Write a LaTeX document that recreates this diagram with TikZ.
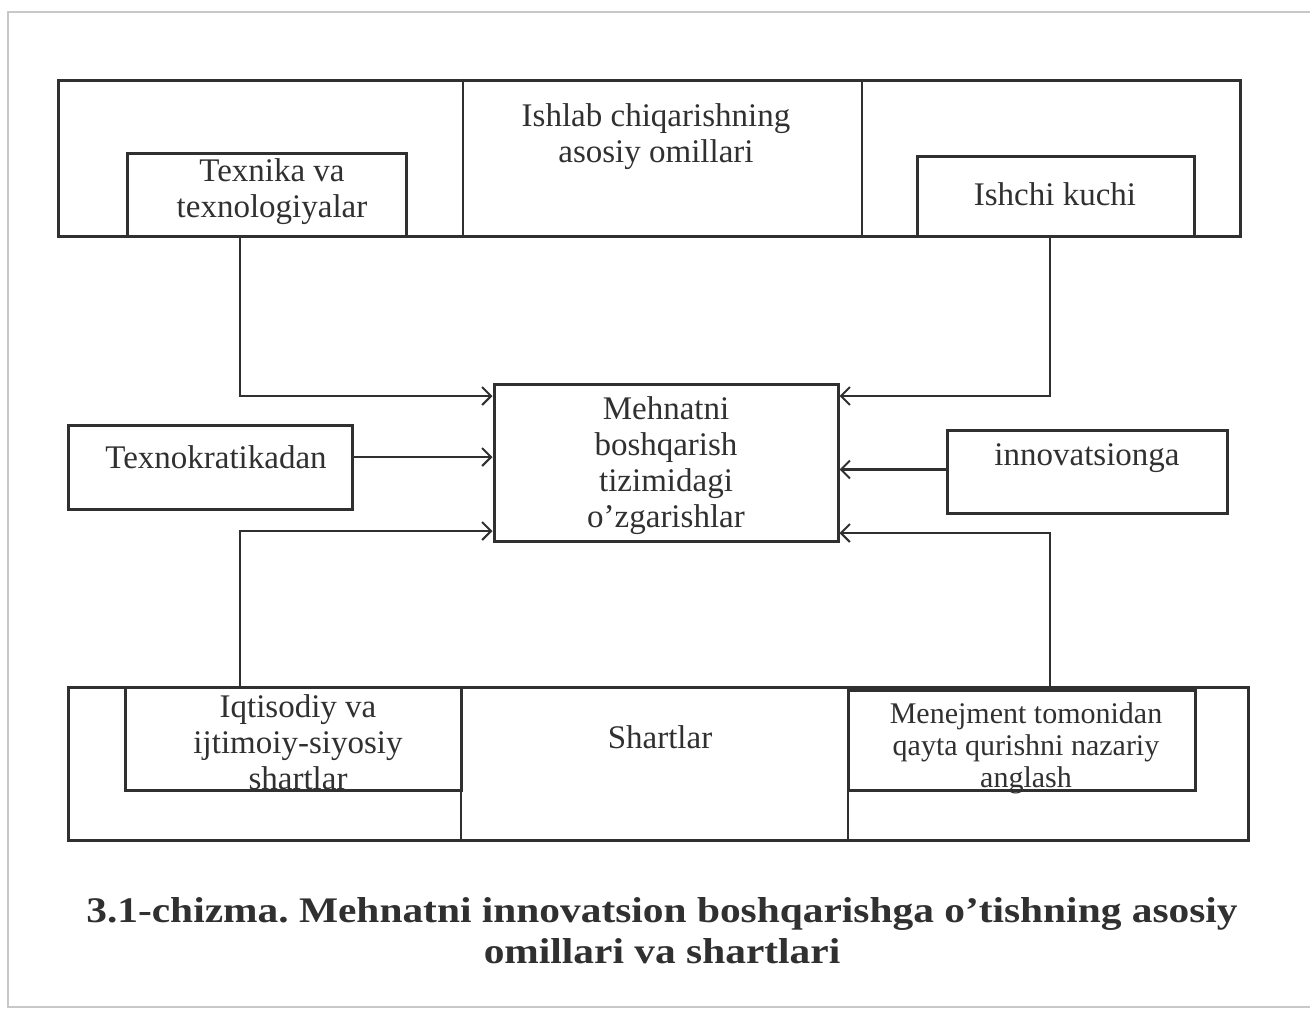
\documentclass[tikz,border=0pt]{standalone}
\usepackage{fontspec}
\setmainfont{Liberation Serif}
\usetikzlibrary{arrows.meta,calc}
\definecolor{ink}{HTML}{303030}
\definecolor{pageedge}{HTML}{C8C8C8}
\frenchspacing

\begin{document}
\begin{tikzpicture}[x=1pt,y=-1pt,
  box/.style={draw=ink, line width=3pt, inner sep=0pt},
  divider/.style={draw=ink, line width=2.2pt},
  lbl/.style={text=ink, font=\fontsize{33}{36}\selectfont, align=center, inner sep=0pt},
  arr/.style={draw=ink, line width=2.2pt, -{Straight Barb[length=9pt,width=18pt,line width=2pt]}},
  captionstyle/.style={text=ink, font=\bfseries\fontsize{36}{41}\selectfont, align=center, inner sep=0pt}]

\useasboundingbox (0,0) rectangle (1310,1010);
% page edge
\draw[pageedge, line width=2pt] (1315,12) -- (8,12) -- (8,1007) -- (1315,1007);

% ---------- upper block: main production factors ----------
\node[box, minimum width=1182pt, minimum height=156pt] (factors) at (649,158) {};
\coordinate (fA) at (463,0);
\coordinate (fB) at (862,0);
\draw[divider] (factors.north -| fA) -- (factors.south -| fA);
\draw[divider] (factors.north -| fB) -- (factors.south -| fB);
\node[lbl] (factorsT) at (656,137) {Ishlab chiqarishning\\asosiy omillari};

\node[box, minimum width=279pt, minimum height=83pt] (tech) at (266.5,194.5) {};
\node[lbl] (techT) at (272,192) {Texnika va\\texnologiyalar};

\node[box, minimum width=277pt, minimum height=80pt] (labour) at (1055.5,196) {};
\node[lbl] (labourT) at (1055,194) {Ishchi kuchi};

% ---------- central block ----------
\node[box, minimum width=344pt, minimum height=157pt] (centre) at (666,462.5) {};
\node[lbl] (centreT) at (666,466) {Mehnatni\\boshqarish\\tizimidagi\\o’zgarishlar};

\node[box, minimum width=284pt, minimum height=84pt] (techno) at (210,467) {};
\node[lbl] (technoT) at (216,457) {Texnokratikadan};

\node[box, minimum width=280pt, minimum height=83pt] (innov) at (1087,471.5) {};
\node[lbl] (innovT) at (1087,458) {innovatsionga};

% ---------- lower block: conditions ----------
\node[box, minimum width=1180pt, minimum height=153pt] (conds) at (658,763.5) {};
\coordinate (cA) at (461,0);
\coordinate (cB) at (848,0);
\draw[divider] (conds.north -| cA) -- (conds.south -| cA);
\draw[divider] (conds.north -| cB) -- (conds.south -| cB);
\node[lbl] (condsT) at (660,737) {Shartlar};

\node[box, minimum width=336pt, minimum height=103pt] (econ) at (293,738.5) {};
\node[lbl] (econT) at (298,742) {Iqtisodiy va\\ijtimoiy-siyosiy\\shartlar};

\node[box, minimum width=347pt, minimum height=100pt] (mgmt) at (1021.5,740) {};
\node[lbl, font=\fontsize{30}{32}\selectfont] (mgmtT) at (1026,748) {Menejment tomonidan\\qayta qurishni nazariy\\anglash};

% ---------- connectors ----------
\coordinate (tl) at (240,396);
\coordinate (bl) at (240,531);
\coordinate (tr) at (1050,396);
\coordinate (br) at (1050,533);

\draw[arr] (tl |- tech.south) -- (tl) -- (tl -| centre.west);
\draw[arr] ([yshift=10pt]techno.east) -- ([yshift=10pt]techno.east -| centre.west);
\draw[arr] (bl |- conds.north) -- (bl) -- (bl -| centre.west);

\draw[arr] (tr |- labour.south) -- (tr) -- (tr -| centre.east);
\draw[arr] ([yshift=2pt]innov.west) -- ([yshift=2pt]innov.west -| centre.east);
\draw[arr] (br |- conds.north) -- (br) -- (br -| centre.east);

% ---------- caption ----------
\node[captionstyle] (caption) at (662,931) {\scalebox{1.15}[1]{3.1-chizma. Mehnatni innovatsion boshqarishga o’tishning asosiy}\\\scalebox{1.15}[1]{omillari va shartlari}};
\end{tikzpicture}
\end{document}
